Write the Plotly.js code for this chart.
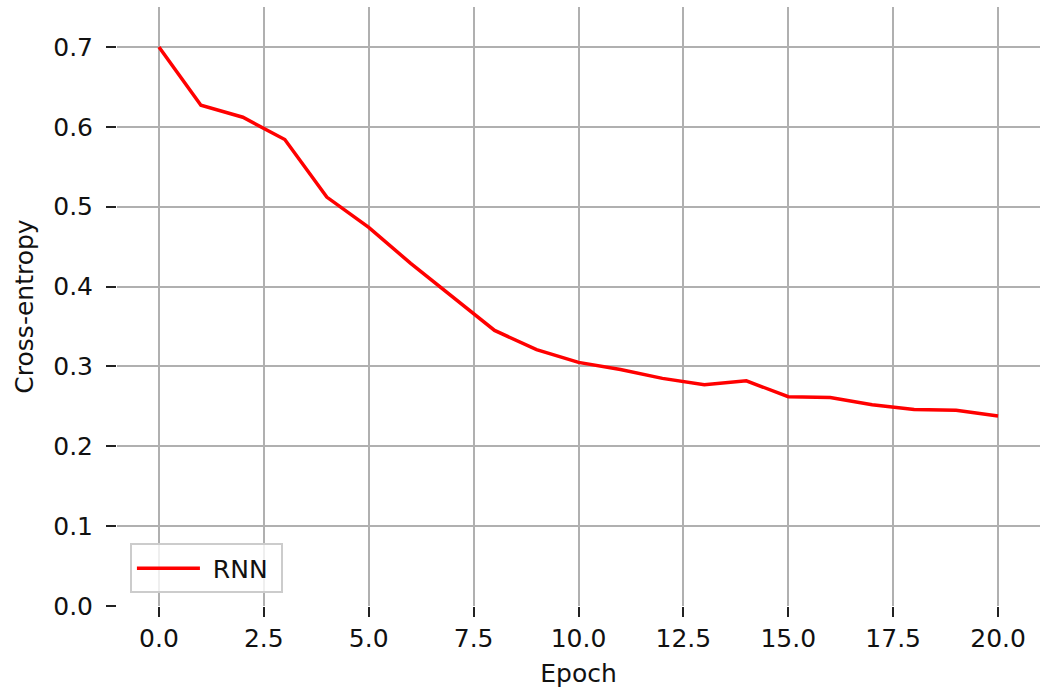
<!DOCTYPE html>
<html>
<head>
<meta charset="utf-8">
<script src="https://cdn.plot.ly/plotly-3.0.1.min.js"></script>
<style>html,body{margin:0;padding:0;background:#fff;}#chart{width:1042px;height:697px;}</style>
</head>
<body>
<div id="chart"></div>
<script>
const epochs = [0,1,2,3,4,5,6,7,8,9,10,11,12,13,14,15,16,17,18,19,20];
const rnnLoss = [0.700,0.627,0.612,0.584,0.512,0.474,0.429,0.387,0.345,0.321,0.305,0.296,0.285,0.277,0.282,0.262,0.261,0.252,0.246,0.245,0.238];
const seriesName = 'RNN';
const xTitle = 'Epoch';
const yTitle = 'Cross-entropy';

const fnt = {family: 'DejaVu Sans', size: 25, color: '#111'};

Plotly.newPlot('chart', [{
  x: epochs, y: rnnLoss, name: '\u00a0' + seriesName + '\u00a0', type: 'scatter', mode: 'lines',
  line: {color: '#ff0000', width: 3.5}
}], {
  width: 1042, height: 697,
  margin: {l: 117, r: 2, t: 7, b: 91},
  paper_bgcolor: '#fff', plot_bgcolor: '#fff',
  font: fnt,
  showlegend: true,
  legend: {x: 0.014, y: 0.021, xanchor: 'left', yanchor: 'bottom',
    bgcolor: 'rgba(255,255,255,0.8)', bordercolor: '#cccccc', borderwidth: 2,
    itemwidth: 63, font: fnt},
  xaxis: {range: [-1, 21], tick0: 0, dtick: 2.5, tickformat: '.1f',
    ticks: 'outside', ticklen: 10, tickwidth: 2, tickcolor: '#222',
    showline: false, zeroline: false, showgrid: true, gridcolor: '#b0b0b0', gridwidth: 2,
    title: {text: xTitle, standoff: 12, font: fnt}},
  yaxis: {range: [0, 0.75], tick0: 0, dtick: 0.1, tickformat: '.1f',
    ticks: 'outside', ticklen: 10, tickwidth: 2, tickcolor: '#222', ticklabelstandoff: 8,
    showline: false, zeroline: false, showgrid: true, gridcolor: '#b0b0b0', gridwidth: 2,
    title: {text: yTitle, standoff: 12, font: fnt}}
}, {displayModeBar: false});
</script>
</body>
</html>
